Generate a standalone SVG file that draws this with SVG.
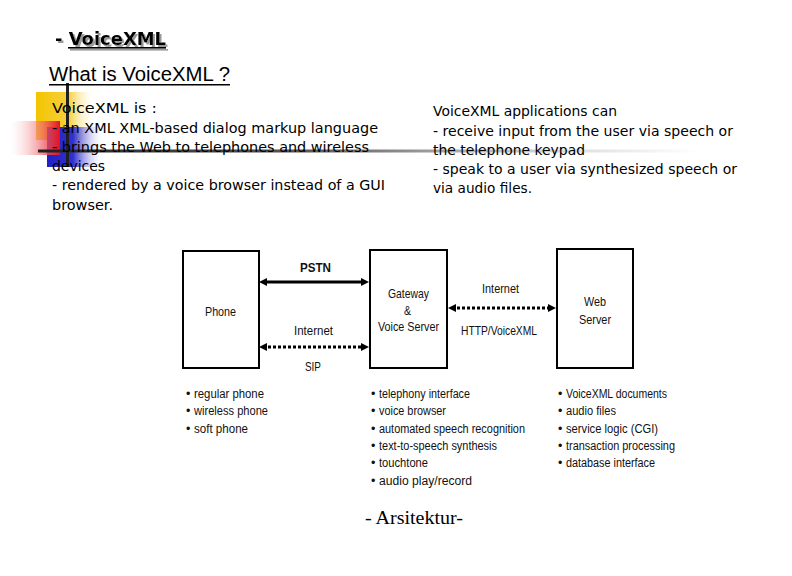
<svg xmlns="http://www.w3.org/2000/svg" width="792" height="576" viewBox="0 0 792 576">
<defs>
<linearGradient id="gy" x1="0" y1="0" x2="1" y2="0"><stop offset="0" stop-color="#f4c400"/><stop offset="0.55" stop-color="#f6d040"/><stop offset="1" stop-color="#ffffff" stop-opacity="0"/></linearGradient>
<linearGradient id="gr" x1="0" y1="0" x2="1" y2="0"><stop offset="0" stop-color="#ffffff" stop-opacity="0.2"/><stop offset="1" stop-color="#e8101a"/></linearGradient>
<linearGradient id="gb" x1="0" y1="0" x2="1" y2="0"><stop offset="0" stop-color="#2020c8"/><stop offset="0.45" stop-color="#3030d0"/><stop offset="1" stop-color="#ffffff" stop-opacity="0"/></linearGradient>
<linearGradient id="gl" x1="0" y1="0" x2="1" y2="0"><stop offset="0" stop-color="#202020"/><stop offset="0.4" stop-color="#555555"/><stop offset="0.6" stop-color="#a0a0a0"/><stop offset="0.8" stop-color="#dcdcdc"/><stop offset="1" stop-color="#ffffff"/></linearGradient>
<filter id="shadow" x="-10%" y="-30%" width="130%" height="170%"><feDropShadow dx="2" dy="2" stdDeviation="0" flood-color="#9a9a9a" flood-opacity="1"/></filter>
<marker id="ah" viewBox="0 0 8 8" refX="4" refY="4" markerWidth="8" markerHeight="8" markerUnits="userSpaceOnUse" orient="auto-start-reverse"><path d="M0,0 L8,4 L0,8 z" fill="#000"/></marker>
</defs>
<style>
.body{font-family:"DejaVu Sans","Verdana",sans-serif;font-size:14px;fill:#000}
.lbl{font-family:"Liberation Sans","Arial",sans-serif;font-size:13px;fill:#111}
.bul{font-family:"Liberation Sans","Arial",sans-serif;font-size:12.5px;fill:#111}
.box{fill:#fff;stroke:#000;stroke-width:2}
.solid{stroke:#000;stroke-width:3;fill:none;marker-start:url(#ah);marker-end:url(#ah)}
.dot{stroke:#000;stroke-width:3;fill:none;stroke-dasharray:3 2;marker-start:url(#ah);marker-end:url(#ah)}
</style>
<rect width="792" height="576" fill="#fff"/>
<g id="decoration">
<rect x="36" y="92" width="60" height="48" fill="url(#gy)"/>
<rect x="47" y="127" width="58" height="40" fill="url(#gb)"/>
<rect x="10" y="121" width="50" height="34" fill="url(#gr)"/>
<rect x="38" y="149.5" width="662" height="3" fill="url(#gl)"/>
<rect x="66" y="83" width="3" height="84" fill="#202020"/>
</g>
<g id="title">
<g filter="url(#shadow)">
<text x="55" y="45" font-family="DejaVu Sans,Verdana,sans-serif" font-weight="bold" font-size="18" fill="#000" textLength="111" lengthAdjust="spacingAndGlyphs">- VoiceXML</text>
<rect x="68" y="47" width="98" height="1.6" fill="#000"/>
</g>
<text x="49" y="81" font-family="Liberation Sans,Arial,sans-serif" font-size="20" fill="#000" textLength="181" lengthAdjust="spacingAndGlyphs">What is VoiceXML ?</text>
<rect x="49" y="84" width="181" height="1.5" fill="#000"/>
</g>
<g id="left-text" class="body">
<text x="52" y="113" textLength="105" lengthAdjust="spacingAndGlyphs">VoiceXML is :</text>
<text x="52" y="133" textLength="326" lengthAdjust="spacingAndGlyphs">- an XML XML-based dialog markup language</text>
<text x="52" y="152" textLength="317" lengthAdjust="spacingAndGlyphs">- brings the Web to telephones and wireless</text>
<text x="52" y="171" textLength="53" lengthAdjust="spacingAndGlyphs">devices</text>
<text x="52" y="190" textLength="333" lengthAdjust="spacingAndGlyphs">- rendered by a voice browser instead of a GUI</text>
<text x="52" y="210" textLength="61" lengthAdjust="spacingAndGlyphs">browser.</text>
</g>
<g id="right-text" class="body">
<text x="433" y="116" textLength="184" lengthAdjust="spacingAndGlyphs">VoiceXML applications can</text>
<text x="433" y="136" textLength="300" lengthAdjust="spacingAndGlyphs">- receive input from the user via speech or</text>
<text x="433" y="155" textLength="152" lengthAdjust="spacingAndGlyphs">the telephone keypad</text>
<text x="433" y="174" textLength="304" lengthAdjust="spacingAndGlyphs">- speak to a user via synthesized speech or</text>
<text x="433" y="193" textLength="99" lengthAdjust="spacingAndGlyphs">via audio files.</text>
</g>
<g id="connectors">
<line class="solid" x1="263" y1="282" x2="365" y2="282"/>
<line class="dot" x1="263" y1="347" x2="365" y2="347"/>
<line class="dot" x1="452" y1="308" x2="552" y2="308"/>
<text class="lbl" x="300" y="272" font-weight="bold" textLength="31" lengthAdjust="spacingAndGlyphs">PSTN</text>
<text class="lbl" x="294" y="335" textLength="39" lengthAdjust="spacingAndGlyphs">Internet</text>
<text class="lbl" x="305" y="371" textLength="16" lengthAdjust="spacingAndGlyphs">SIP</text>
<text class="lbl" x="482" y="293" textLength="37" lengthAdjust="spacingAndGlyphs">Internet</text>
<text class="lbl" x="461" y="335" textLength="76" lengthAdjust="spacingAndGlyphs">HTTP/VoiceXML</text>
</g>
<g id="phone">
<rect class="box" x="183" y="251" width="76" height="117"/>
<text class="lbl" x="205" y="316" textLength="31" lengthAdjust="spacingAndGlyphs">Phone</text>
</g>
<g id="gateway">
<rect class="box" x="370" y="250" width="77" height="118"/>
<text class="lbl" x="388" y="298" textLength="41" lengthAdjust="spacingAndGlyphs">Gateway</text>
<text class="lbl" x="404" y="315" textLength="7" lengthAdjust="spacingAndGlyphs">&amp;</text>
<text class="lbl" x="378" y="331" textLength="61" lengthAdjust="spacingAndGlyphs">Voice Server</text>
</g>
<g id="webserver">
<rect class="box" x="557" y="249" width="76" height="119"/>
<text class="lbl" x="584" y="306" textLength="22" lengthAdjust="spacingAndGlyphs">Web</text>
<text class="lbl" x="579" y="324" textLength="32" lengthAdjust="spacingAndGlyphs">Server</text>
</g>
<g id="phone-list" class="bul">
<text x="186" y="398">•</text><text x="194" y="398" textLength="70" lengthAdjust="spacingAndGlyphs">regular phone</text>
<text x="186" y="415">•</text><text x="194" y="415" textLength="74" lengthAdjust="spacingAndGlyphs">wireless phone</text>
<text x="186" y="433">•</text><text x="194" y="433" textLength="54" lengthAdjust="spacingAndGlyphs">soft phone</text>
</g>
<g id="gateway-list" class="bul">
<text x="371" y="398">•</text><text x="379" y="398" textLength="91" lengthAdjust="spacingAndGlyphs">telephony interface</text>
<text x="371" y="415">•</text><text x="379" y="415" textLength="67" lengthAdjust="spacingAndGlyphs">voice browser</text>
<text x="371" y="433">•</text><text x="379" y="433" textLength="146" lengthAdjust="spacingAndGlyphs">automated speech recognition</text>
<text x="371" y="450">•</text><text x="379" y="450" textLength="118" lengthAdjust="spacingAndGlyphs">text-to-speech synthesis</text>
<text x="371" y="467">•</text><text x="379" y="467" textLength="49" lengthAdjust="spacingAndGlyphs">touchtone</text>
<text x="371" y="485">•</text><text x="379" y="485" textLength="93" lengthAdjust="spacingAndGlyphs">audio play/record</text>
</g>
<g id="web-list" class="bul">
<text x="558" y="398">•</text><text x="566" y="398" textLength="101" lengthAdjust="spacingAndGlyphs">VoiceXML documents</text>
<text x="558" y="415">•</text><text x="566" y="415" textLength="50" lengthAdjust="spacingAndGlyphs">audio files</text>
<text x="558" y="433">•</text><text x="566" y="433" textLength="92" lengthAdjust="spacingAndGlyphs">service logic (CGI)</text>
<text x="558" y="450">•</text><text x="566" y="450" textLength="109" lengthAdjust="spacingAndGlyphs">transaction processing</text>
<text x="558" y="467">•</text><text x="566" y="467" textLength="89" lengthAdjust="spacingAndGlyphs">database interface</text>
</g>
<g id="footer">
<text x="365" y="524" font-family="Liberation Serif,Times New Roman,serif" font-size="18" fill="#000" textLength="98" lengthAdjust="spacingAndGlyphs">- Arsitektur-</text>
</g>
</svg>
